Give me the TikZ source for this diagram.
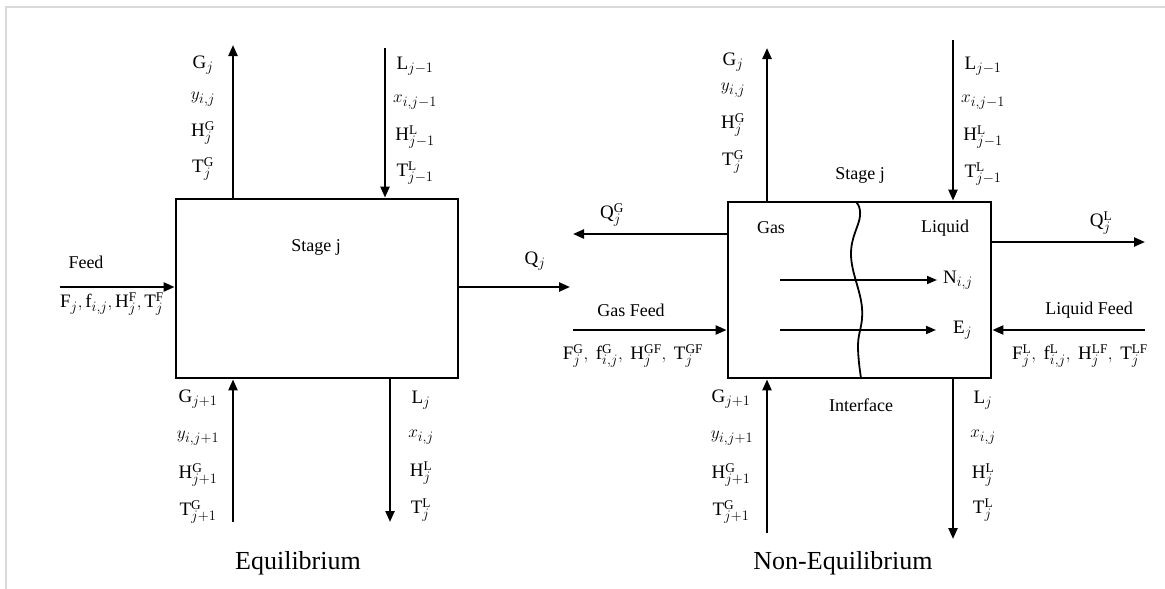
\documentclass[tikz,border=0pt]{standalone}
\usepackage{fontspec}
\setmainfont{Liberation Serif}
\usetikzlibrary{arrows.meta}
\newcommand*\rmm[1]{\mathrm{#1}}
\begin{document}
\begin{tikzpicture}[
        x=1pt, y=-1pt,
        line cap=butt, line join=miter,
        stagebox/.style={draw, line width=2.8pt, inner sep=0pt},
        flow/.style={line width=2.3pt, -{Triangle[length=11pt,width=9pt]}},
        inflow/.style={line width=1.8pt, -{Triangle[length=10pt,width=8pt]}},
        lbl/.style={font=\fontsize{19}{22}\selectfont, inner sep=0pt},
        word/.style={font=\fontsize{18}{21}\selectfont, inner sep=0pt},
        title/.style={font=\fontsize{26}{30}\selectfont, inner sep=0pt}
    ]
    \useasboundingbox (0,0) rectangle (1165,589);
    \draw[color={rgb,255:red,218;green,218;blue,218}, line width=2pt] (6,589) -- (6,7) -- (1165,7);
    % equilibrium stage
    \node[stagebox, minimum width=282pt, minimum height=179pt] (eqbox) at (317,288.5) {};
    \node[word] (eqstage) at (316,247) {Stage j};
    \coordinate (eqG) at (233,45);
    \coordinate (eqL) at (385,48);
    \coordinate (eqGin) at (233,522);
    \coordinate (eqLout) at (390,522);
    \coordinate (eqF) at (60,287);
    \coordinate (eqQ) at (570,287);
    \draw[flow] (eqG |- eqbox.north) -- (eqG);
    \draw[flow] (eqL) -- (eqL |- eqbox.north);
    \draw[flow] (eqGin) -- (eqGin |- eqbox.south);
    \draw[flow] (eqLout |- eqbox.south) -- (eqLout);
    \draw[flow] (eqF) -- (eqF -| eqbox.west);
    \draw[flow] (eqQ -| eqbox.east) -- (eqQ);
    \node[lbl] (eqG1) at (203,65) {$\rmm{G}_j$};
    \node[lbl] (eqG2) at (203,99) {$y_{i,j}$};
    \node[lbl] (eqG3) at (203,133) {$\rmm{H}_j^{\rmm{G}}$};
    \node[lbl] (eqG4) at (203,169) {$\rmm{T}_j^{\rmm{G}}$};
    \node[lbl] (eqL1) at (415,66) {$\rmm{L}_{j-1}$};
    \node[lbl] (eqL2) at (415,102) {$x_{i,j-1}$};
    \node[lbl] (eqL3) at (415,137) {$\rmm{H}_{j-1}^{\rmm{L}}$};
    \node[lbl] (eqL4) at (415,173) {$\rmm{T}_{j-1}^{\rmm{L}}$};
    \node[lbl] (eqGin1) at (198,399) {$\rmm{G}_{j+1}$};
    \node[lbl] (eqGin2) at (198,438) {$y_{i,j+1}$};
    \node[lbl] (eqGin3) at (198,475) {$\rmm{H}_{j+1}^{\rmm{G}}$};
    \node[lbl] (eqGin4) at (198,512) {$\rmm{T}_{j+1}^{\rmm{G}}$};
    \node[lbl] (eqLout1) at (421,400) {$\rmm{L}_j$};
    \node[lbl] (eqLout2) at (421,437) {$x_{i,j}$};
    \node[lbl] (eqLout3) at (421,473) {$\rmm{H}_j^{\rmm{L}}$};
    \node[lbl] (eqLout4) at (421,510) {$\rmm{T}_j^{\rmm{L}}$};
    \node[word] (eqFeed) at (86,262) {Feed};
    \node[lbl] (eqFvars) at (112,304) {$\rmm{F}_j, \rmm{f}_{i,j}, \rmm{H}_j^{\rmm{F}}, \rmm{T}_j^{\rmm{F}}$};
    \node[lbl] (eqQlbl) at (535,261) {$\rmm{Q}_j$};
    \node[title] (eqtitle) at (298,563) {Equilibrium};
    % non-equilibrium stage
    \node[stagebox, minimum width=263pt, minimum height=176pt] (nebox) at (859.5,290) {};
    \draw[line width=1.8pt] plot[smooth, tension=0.7] coordinates {(856,202) (860,216) (851,255) (862,308) (858,345) (861,378)};
    \node[word] (nestage) at (860,175) {Stage j};
    \node[word] (negas) at (771,228) {Gas};
    \node[word] (neliq) at (945,228) {Liquid};
    \node[word] (neint) at (861,405) {Interface};
    \coordinate (neG) at (767,48);
    \coordinate (neL) at (953,40);
    \coordinate (neGin) at (767,533);
    \coordinate (neLout) at (953,539);
    \coordinate (neQG) at (573,234);
    \coordinate (neQL) at (1145,242);
    \coordinate (neGF) at (573,330);
    \coordinate (neLF) at (1145,330);
    \coordinate (neN) at (780,280);
    \coordinate (neE) at (780,330);
    \draw[flow] (neG |- nebox.north) -- (neG);
    \draw[flow] (neL) -- (neL |- nebox.north);
    \draw[flow] (neGin) -- (neGin |- nebox.south);
    \draw[flow] (neLout |- nebox.south) -- (neLout);
    \draw[flow] (neQG -| nebox.west) -- (neQG);
    \draw[flow] (neQL -| nebox.east) -- (neQL);
    \draw[flow] (neGF) -- (neGF -| nebox.west);
    \draw[flow] (neLF) -- (neLF -| nebox.east);
    \node[lbl, anchor=west] (neNlbl) at (943,280) {$\rmm{N}_{i,j}$};
    \node[lbl, anchor=west] (neElbl) at (953,330) {$\rmm{E}_j$};
    \draw[inflow] (neN) -- ([xshift=-6pt]neNlbl.west);
    \draw[inflow] (neE) -- ([xshift=-17pt]neElbl.west);
    \node[lbl] (neG1) at (733,62) {$\rmm{G}_j$};
    \node[lbl] (neG2) at (733,90) {$y_{i,j}$};
    \node[lbl] (neG3) at (733,125) {$\rmm{H}_j^{\rmm{G}}$};
    \node[lbl] (neG4) at (733,162) {$\rmm{T}_j^{\rmm{G}}$};
    \node[lbl] (neL1) at (983,66) {$\rmm{L}_{j-1}$};
    \node[lbl] (neL2) at (983,102) {$x_{i,j-1}$};
    \node[lbl] (neL3) at (983,137) {$\rmm{H}_{j-1}^{\rmm{L}}$};
    \node[lbl] (neL4) at (983,174) {$\rmm{T}_{j-1}^{\rmm{L}}$};
    \node[lbl] (neGin1) at (731,399) {$\rmm{G}_{j+1}$};
    \node[lbl] (neGin2) at (732,438) {$y_{i,j+1}$};
    \node[lbl] (neGin3) at (731,475) {$\rmm{H}_{j+1}^{\rmm{G}}$};
    \node[lbl] (neGin4) at (731,512) {$\rmm{T}_{j+1}^{\rmm{G}}$};
    \node[lbl] (neLout1) at (983,400) {$\rmm{L}_j$};
    \node[lbl] (neLout2) at (983,437) {$x_{i,j}$};
    \node[lbl] (neLout3) at (983,475) {$\rmm{H}_j^{\rmm{L}}$};
    \node[lbl] (neLout4) at (983,510) {$\rmm{T}_j^{\rmm{L}}$};
    \node[lbl] (neQGlbl) at (612,215) {$\rmm{Q}_j^{\rmm{G}}$};
    \node[lbl] (neQLlbl) at (1101,223) {$\rmm{Q}_j^{\rmm{L}}$};
    \node[word] (neGFlbl) at (631,310) {Gas Feed};
    \node[lbl] (neGFvars) at (633,356) {$\rmm{F}_j^{\rmm{G}},\ \rmm{f}_{i,j}^{\rmm{G}},\ \rmm{H}_j^{\rmm{GF}},\ \rmm{T}_j^{\rmm{GF}}$};
    \node[word] (neLFlbl) at (1089,310) {Liquid Feed};
    \node[lbl] (neLFvars) at (1080,356) {$\rmm{F}_j^{\rmm{L}},\ \rmm{f}_{i,j}^{\rmm{L}},\ \rmm{H}_j^{\rmm{LF}},\ \rmm{T}_j^{\rmm{LF}}$};
    \node[title] (netitle) at (843,563) {Non-Equilibrium};
\end{tikzpicture}
\end{document}
